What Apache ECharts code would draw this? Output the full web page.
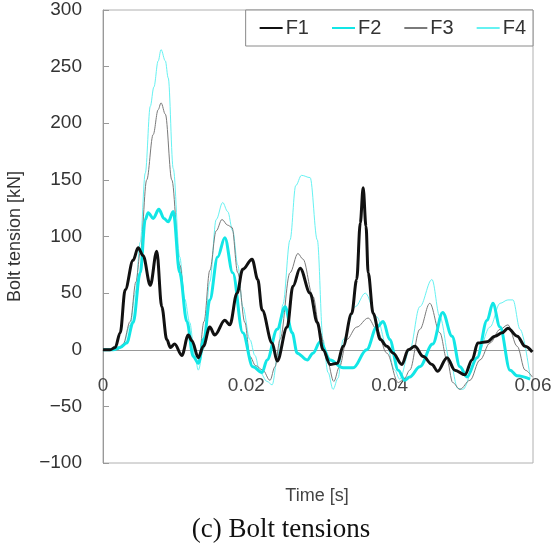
<!DOCTYPE html>
<html>
<head>
<meta charset="utf-8">
<script src="https://cdn.jsdelivr.net/npm/echarts@6/dist/echarts.min.js"></script>
<style>
html,body{margin:0;padding:0;background:#fff;}
#c{width:556px;height:546px;}
</style>
</head>
<body>
<div id="c"></div>
<script>
// Time [s], Bolt tension [kN]
const seriesNames = ['F1', 'F2', 'F3', 'F4'];
const xTicks = [0, 0.02, 0.04, 0.06];
const yTicks = [-100, -50, 0, 50, 100, 150, 200, 250, 300];

const f1 = [[0,0],[.0010,0],[.0017,2],[.0024,15],[.0031,53],[.0042,79],[.0049,90],[.0056,83],[.0066,57],[.0075,87],
 [.0082,38],[.0089,9],[.0094,2],[.0100,5],[.0110,-5],[.0119,13],[.0124,8],[.0133,-7],[.0140,3],[.0149,20],[.0156,13],
 [.0170,26],[.0177,22],[.0187,50],[.0195,71],[.0208,80],[.0216,62],[.0222,35],[.0236,6],[.0243,-10],[.0257,20],
 [.0265,56],[.0275,72],[.0289,50],[.0299,24],[.0307,0],[.0317,-13],[.0327,-12],[.0335,3],[.0347,32],[.0354,62],
 [.0359,112],[.0363,143],[.0367,109],[.0370,68],[.0377,32],[.0387,9],[.0396,3],[.0405,-3],[.0417,-13],[.0426,0],
 [.0435,3],[.0447,-6],[.0459,-13],[.0467,-19],[.0480,-7],[.0491,-18],[.0505,-22],[.0515,-9],[.0523,6],[.0536,7],
 [.0547,12],[.0557,15],[.0565,19],[.0578,12],[.0589,3],[.0599,-2]];

const f2 = [[0,0],[.0014,0],[.0024,2],[.0033,6],[.0042,24],[.0052,68],[.0059,115],[.0063,121],[.0070,116],[.0078,124],
 [.0085,116],[.0091,113],[.0098,122],[.0107,68],[.0117,25],[.0126,-6],[.0133,-12],[.0141,10],[.0149,44],[.0160,82],
 [.0170,99],[.0181,68],[.0195,15],[.0209,-15],[.0222,-20],[.0229,-9],[.0243,18],[.0254,38],[.0264,15],[.0271,-3],
 [.0285,-9],[.0293,-3],[.0303,7],[.0317,-9],[.0335,-16],[.0349,-16],[.0368,0],[.0382,20],[.0391,25],[.0400,9],
 [.0412,-18],[.0421,-27],[.0428,-24],[.0442,-15],[.0460,5],[.0474,33],[.0487,12],[.0498,-15],[.0508,-24],[.0522,-7],
 [.0536,26],[.0544,41],[.0554,20],[.0568,-18],[.0578,-23],[.0596,-26]];

const f3 = [[0,0],[.0020,0],[.0028,5],[.0038,25],[.0046,60],[.0052,86],[.0061,150],[.0070,190],[.0077,212],[.0081,218],
 [.0087,208],[.0096,150],[.0107,75],[.0117,25],[.0126,-5],[.0133,-12],[.0141,25],[.0149,70],[.0158,105],[.0166,115],
 [.0174,110],[.0180,108],[.0188,68],[.0198,24],[.0205,-6],[.0213,-14],[.0223,-18],[.0233,-27],[.0240,-15],[.0247,9],
 [.0261,68],[.0272,85],[.0279,80],[.0293,47],[.0303,15],[.0313,-10],[.0322,-28],[.0330,-15],[.0340,9],[.0354,20],
 [.0370,28],[.0382,18],[.0396,-3],[.0412,-29],[.0421,-25],[.0428,-18],[.0442,18],[.0456,41],[.0470,15],[.0480,-9],
 [.0488,-29],[.0498,-35],[.0512,-27],[.0526,-9],[.0540,6],[.0554,18],[.0565,22],[.0578,3],[.0589,-18],[.0599,-24]];

const f4 = [[0,0],[.0020,0],[.0028,4],[.0038,22],[.0045,50],[.0052,95],[.0059,156],[.0066,215],[.0071,232],[.0077,255],
 [.0081,265],[.0087,255],[.0091,240],[.0098,160],[.0107,82],[.0114,45],[.0121,24],[.0128,-5],[.0133,-18],[.0140,0],
 [.0149,60],[.0158,115],[.0167,130],[.0174,122],[.0181,105],[.0188,75],[.0195,38],[.0205,9],[.0212,-5],[.0219,-20],
 [.0229,-28],[.0236,-31],[.0244,-5],[.0251,40],[.0261,97],[.0269,145],[.0277,154],[.0289,152],[.0299,97],[.0307,9],
 [.0314,-20],[.0321,-35],[.0328,-25],[.0335,9],[.0352,38],[.0366,50],[.0382,29],[.0396,3],[.0407,-18],[.0414,-26],
 [.0428,0],[.0442,38],[.0459,62],[.0470,29],[.0484,-9],[.0495,-34],[.0502,-35],[.0522,-6],[.0540,20],[.0554,41],
 [.0565,44],[.0572,44],[.0582,18],[.0596,-24]];

const seriesData = [f1, f2, f3, f4];
const colors = ['#111111', '#12E6E6', '#7a7a7a', '#66F2F2'];
const widths = [3, 3, 1, 1];

const chart = echarts.init(document.getElementById('c'), null, {renderer: 'canvas'});
const sans = 'Liberation Sans, Arial, sans-serif';
const gridTop = 10, gridBottom = 83, H = 546;
const gridH = H - gridTop - gridBottom;
const yMin = yTicks[0], yMax = yTicks[yTicks.length - 1];
const zeroOffset = -gridH * (0 - yMin) / (yMax - yMin);

chart.setOption({
  animation: false,
  backgroundColor: '#fff',
  grid: {left: 103, right: 23, top: gridTop, bottom: gridBottom, show: true, borderColor: '#b0b0b0', borderWidth: 1,
    containLabel: false, outerBoundsMode: 'none'},
  legend: {
    data: seriesNames,
    right: 23, top: 10,
    orient: 'horizontal',
    backgroundColor: '#fff',
    borderColor: '#8a8a8a', borderWidth: 1,
    padding: [8, 7, 8, 13],
    itemGap: 22, itemWidth: 23, itemHeight: 14,
    itemStyle: {opacity: 0},
    textStyle: {fontFamily: sans, fontSize: 20, color: '#333', padding: [0, 0, 0, -2]}
  },
  xAxis: {
    type: 'value', min: 0, max: 0.06, interval: 0.02,
    offset: zeroOffset,
    axisLine: {show: true, onZero: false, lineStyle: {color: '#999', width: 1}},
    axisTick: {show: false},
    splitLine: {show: false},
    axisLabel: {
      fontFamily: sans, fontSize: 19, color: '#444', margin: 27,
      formatter: v => { const m = xTicks.find(t => Math.abs(t - v) < 1e-9); return m === 0 ? '0' : String(m); }
    }
  },
  yAxis: {
    type: 'value', min: yMin, max: yMax, interval: 50,
    axisLine: {show: true, onZero: false, lineStyle: {color: '#999', width: 1}},
    axisTick: {show: true, inside: true, length: 6, lineStyle: {color: '#999'}},
    splitLine: {show: false},
    axisLabel: {fontFamily: sans, fontSize: 19, color: '#333', margin: 21,
      formatter: v => (v < 0 ? '\u2212' + Math.abs(v) : String(v))},
    name: 'Bolt tension [kN]', nameLocation: 'middle', nameGap: 79, nameRotate: 90,
    nameTextStyle: {fontFamily: sans, fontSize: 18, color: '#333'}
  },
  graphic: [
    {type: 'text', style: {text: 'Time [s]', x: 317, y: 496, align: 'center', verticalAlign: 'middle',
      font: '18px Liberation Sans, Arial, sans-serif', fill: '#444'}},
    {type: 'text', style: {text: '(c) Bolt tensions', x: 281, y: 530, align: 'center', verticalAlign: 'middle',
      font: '27px Liberation Serif, Times New Roman, serif', fill: '#111'}}
  ],
  series: seriesNames.map((n, i) => ({
    name: n, type: 'line', data: seriesData[i],
    symbol: 'none', smooth: 0.35, smoothMonotone: 'x',
    lineStyle: {color: colors[i], width: widths[i]},
    itemStyle: {color: colors[i]},
    z: [5, 4, 3, 2][i]
  }))
});
</script>
</body>
</html>
